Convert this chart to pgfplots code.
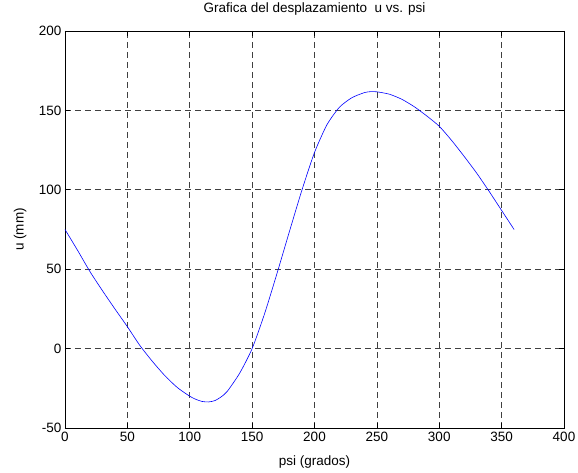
\documentclass[border=0pt]{standalone}
\usepackage{fontspec}
\setmainfont{Liberation Sans}
\usepackage{pgfplots}
\pgfplotsset{compat=1.18}

\begin{document}
\begin{tikzpicture}
\useasboundingbox (-65pt,-45pt) rectangle (513pt,428pt);
\begin{axis}[
    at={(0,0)}, anchor=south west,
    scale only axis,
    width=499pt, height=397pt,
    xmin=0, xmax=400, ymin=-50, ymax=200,
    xtick={0,50,...,400}, ytick={-50,0,...,200},
    grid=major,
    major grid style={black!75, dash pattern=on 6pt off 4pt, line width=0.6pt},
    tick align=inside, major tick length=5pt,
    axis line style={line width=0.8pt},
    every tick/.style={black, line width=0.6pt},
    font=\fontsize{13.5}{15}\selectfont,
    /pgf/number format/assume math mode=true,
    xticklabel style={yshift=-1pt},
    title={Grafica del desplazamiento\ \ u vs. psi},
    title style={at={(axis description cs:0.5,1.04)}, anchor=center},
    xlabel={psi (grados)},
    xlabel style={at={(axis description cs:0.5,-0.086)}, anchor=center},
    ylabel={u (mm)},
    ylabel style={at={(axis description cs:-0.09,0.5)}, anchor=center},
]
\addplot[blue, line width=0.6pt, smooth, tension=0.4] coordinates {
    (0,75) (10,62) (20,48.5) (30,36.5) (40,25) (50,13.8) (60,2)
    (70,-8) (80,-17) (90,-24.5) (100,-30) (105,-32) (110,-33.3)
    (115,-33.6) (120,-32.8) (125,-30.5) (130,-27) (140,-15.5)
    (150,0) (160,22) (170,47.5) (180,74) (190,100) (200,123.5)
    (210,141) (220,152) (230,158) (240,161.2) (245,161.8)
    (250,161.7) (260,160.2) (270,157) (280,152.3) (290,146.5)
    (300,140) (310,131) (320,121) (330,110.5) (340,99)
    (350,87) (360,75)
};
\end{axis}
\end{tikzpicture}
\end{document}
